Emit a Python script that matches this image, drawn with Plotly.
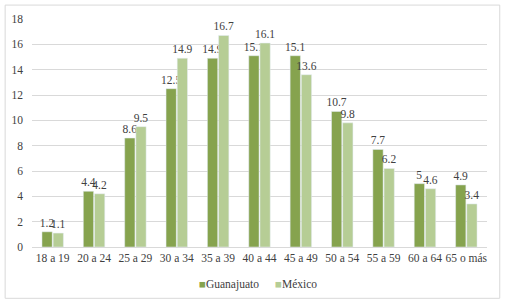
import plotly.graph_objects as go

categories = ["18 a 19", "20 a 24", "25 a 29", "30 a 34", "35 a 39", "40 a 44",
              "45 a 49", "50 a 54", "55 a 59", "60 a 64", "65 o más"]
guanajuato = [1.2, 4.4, 8.6, 12.5, 14.9, 15.1, 15.1, 10.7, 7.7, 5, 4.9]
mexico = [1.1, 4.2, 9.5, 14.9, 16.7, 16.1, 13.6, 9.8, 6.2, 4.6, 3.4]
y_ticks = [0, 2, 4, 6, 8, 10, 12, 14, 16, 18]
series_names = ["Guanajuato", "México"]
series_colors = ["#86A34E", "#B6CD95"]

font_family = "Times New Roman"
txt_color = "#404040"

fig = go.Figure()
for name, vals, col in zip(series_names, [guanajuato, mexico], series_colors):
    fig.add_trace(go.Bar(name=name, x=categories, y=vals,
                         marker_color=col, text=[str(v) for v in vals],
                         textposition="outside", cliponaxis=False, constraintext="none",
                         textfont=dict(family=font_family, size=11.5, color=txt_color)))

# custom compact legend (small square markers) as text items
legend_x = [0.362, 0.53]
for name, col, lx in zip(series_names, series_colors, legend_x):
    fig.add_annotation(xref="paper", yref="paper", x=lx, y=-0.163, xanchor="left",
                       yanchor="middle", showarrow=False,
                       text=f'<span style="color:{col}">■</span>{name}',
                       font=dict(family=font_family, size=11.5, color=txt_color))

fig.update_layout(
    width=506, height=304,
    margin=dict(l=32, r=19, t=19, b=57, autoexpand=False),
    barmode="group", bargap=0.46, bargroupgap=0.08,
    plot_bgcolor="white", paper_bgcolor="white",
    font=dict(family=font_family, size=11, color=txt_color),
    showlegend=False,
)
fig.update_yaxes(range=[0, 18], tickvals=y_ticks, showgrid=True, gridcolor="#D9D9D9",
                 gridwidth=1, zeroline=False, showline=False, ticks="", automargin=False,
                 ticklabelstandoff=8,
                 tickfont=dict(family=font_family, size=11.5, color=txt_color))
fig.update_xaxes(showline=True, linecolor="#D9D9D9", linewidth=1, ticks="", automargin=False,
                 tickfont=dict(family=font_family, size=11.5, color=txt_color))
fig.add_shape(type="rect", xref="paper", yref="paper",
              x0=-0.059, x1=1.028, y0=-0.225, y1=1.061,
              line=dict(color="#D9D9D9", width=1), fillcolor="rgba(0,0,0,0)", layer="below")

fig.write_html("out.html", config={"displayModeBar": False},
               post_script="document.body.style.margin='0';")
